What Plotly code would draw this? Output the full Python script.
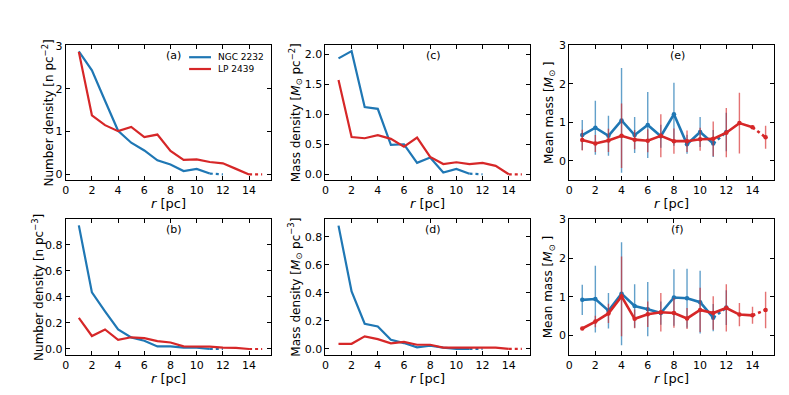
import plotly.graph_objects as go
from plotly.subplots import make_subplots

# radii of the bins [pc]
r_ngc = [1, 2, 3, 4, 5, 6, 7, 8, 9, 10, 11, 12]
r_lp = [1, 2, 3, 4, 5, 6, 7, 8, 9, 10, 11, 12, 13, 14, 15]

# (a) surface number density [n pc^-2]
nd2_ngc = [2.87, 2.43, 1.72, 1.02, 0.74, 0.56, 0.33, 0.23, 0.08, 0.13, 0.02, 0.0]
nd2_lp = [2.86, 1.38, 1.15, 1.01, 1.11, 0.87, 0.93, 0.55, 0.34, 0.35, 0.29, 0.26, 0.13, 0.0, 0.0]

# (b) volume number density [n pc^-3]
nd3_ngc = [0.95, 0.435, 0.29, 0.15, 0.088, 0.063, 0.02, 0.02, 0.01, 0.01, 0.0, 0.0]
nd3_lp = [0.24, 0.10, 0.15, 0.07, 0.09, 0.083, 0.06, 0.05, 0.02, 0.02, 0.018, 0.01, 0.008, 0.0, 0.0]

# (c) surface mass density [Msun pc^-2]
md2_ngc = [1.93, 2.05, 1.12, 1.09, 0.49, 0.50, 0.19, 0.28, 0.03, 0.09, 0.01, 0.0]
md2_lp = [1.57, 0.62, 0.60, 0.65, 0.59, 0.46, 0.61, 0.29, 0.17, 0.20, 0.17, 0.19, 0.14, 0.0, 0.0]

# (d) volume mass density [Msun pc^-3]
md3_ngc = [0.88, 0.41, 0.18, 0.16, 0.065, 0.042, 0.012, 0.023, 0.01, 0.0, 0.0, 0.0]
md3_lp = [0.037, 0.037, 0.09, 0.07, 0.04, 0.05, 0.03, 0.03, 0.01, 0.01, 0.01, 0.01, 0.01, 0.0, 0.0]

# (e) mean mass, projected bins [Msun]
mm2_ngc = [0.67, 0.86, 0.65, 1.05, 0.67, 0.93, 0.64, 1.21, 0.43, 0.75, 0.45, 0.75]
mm2_ngc_err = [0.39, 0.70, 0.52, 1.36, 0.47, 0.86, 0.30, 0.82, 0.25, 0.39, 0.35, 0.50]
mm2_lp = [0.54, 0.45, 0.53, 0.65, 0.55, 0.52, 0.65, 0.51, 0.51, 0.56, 0.57, 0.73, 0.98, 0.87, 0.61]
mm2_lp_err = [0.27, 0.22, 0.30, 0.84, 0.25, 0.30, 0.56, 0.33, 0.28, 0.30, 0.45, 0.64, 0.79, 0.0, 0.30]

# (f) mean mass, spatial bins [Msun]
mm3_ngc = [0.92, 0.94, 0.64, 1.08, 0.76, 0.68, 0.58, 0.98, 0.96, 0.86, 0.46, 0.72]
mm3_ngc_err = [0.39, 0.86, 0.46, 1.33, 0.56, 0.70, 0.30, 0.73, 0.76, 0.81, 0.35, 0.45]
mm3_lp = [0.18, 0.36, 0.57, 1.01, 0.43, 0.55, 0.60, 0.58, 0.44, 0.66, 0.58, 0.71, 0.54, 0.52, 0.66]
mm3_lp_err = [0.03, 0.15, 0.25, 1.03, 0.24, 0.33, 0.50, 0.38, 0.27, 0.57, 0.43, 0.61, 0.30, 0.22, 0.47]

names = ['NGC 2232', 'LP 2439']
BLUE = '#1f77b4'
RED = '#d62728'
ERR = {BLUE: 'rgba(31,119,180,0.7)', RED: 'rgba(214,39,40,0.65)'}
FONT = 'DejaVu Sans'
W, H = 789, 395


def px(x):
    return x / W


def py(y):
    return 1 - y / H


fig = make_subplots(rows=2, cols=3)


def add_profile(row, col, r, y, color, err=None):
    lw = 2.6 if err is not None else 2.2
    if err is not None:
        fig.add_trace(go.Scatter(
            x=r, y=y, mode='markers',
            marker=dict(size=4.5, color=color),
            error_y=dict(type='data', array=err, color=ERR[color],
                         thickness=1.4, width=0),
            showlegend=False, hoverinfo='skip'), row=row, col=col)
    # solid part, last bin dotted
    fig.add_trace(go.Scatter(
        x=r[:-1], y=y[:-1], mode='lines',
        line=dict(color=color, width=lw),
        showlegend=False), row=row, col=col)
    fig.add_trace(go.Scatter(
        x=r[-2:], y=y[-2:], mode='lines',
        line=dict(color=color, width=lw, dash='dot'),
        showlegend=False), row=row, col=col)


panels = [
    (1, 1, nd2_ngc, nd2_lp),
    (2, 1, nd3_ngc, nd3_lp),
    (1, 2, md2_ngc, md2_lp),
    (2, 2, md3_ngc, md3_lp),
]
for row, col, yn, yl in panels:
    add_profile(row, col, r_ngc, yn, BLUE)
    add_profile(row, col, r_lp, yl, RED)

# mean mass panels with error bars
for row, yn, en, yl, el in [(1, mm2_ngc, mm2_ngc_err, mm2_lp, mm2_lp_err),
                            (2, mm3_ngc, mm3_ngc_err, mm3_lp, mm3_lp_err)]:
    add_profile(row, 3, r_ngc, yn, BLUE, en)
    add_profile(row, 3, r_lp, yl, RED, el)

# panel geometry (pixels)
cols_px = [(54, 260), (315, 521), (560, 766)]
rows_px = [(32, 169), (209, 347)]
yranges = {
    (1, 1): [-0.13, 3.01], (1, 2): [-0.095, 2.145], (1, 3): [-0.5, 3.0],
    (2, 1): [-0.045, 0.997], (2, 2): [-0.042, 0.925], (2, 3): [-0.5, 3.0],
}
ydticks = {
    (1, 1): (1, None), (1, 2): (0.5, '.1f'), (1, 3): (1, None),
    (2, 1): (0.2, '.1f'), (2, 2): (0.2, '.1f'), (2, 3): (1, None),
}
axis_style = dict(showline=True, linecolor='black', linewidth=1, mirror='ticks',
                  ticks='inside', ticklen=4, tickwidth=1, tickcolor='black',
                  showgrid=False, zeroline=False,
                  tickfont=dict(family=FONT, size=11, color='black'))

for row in (1, 2):
    for col in (1, 2, 3):
        x0, x1 = cols_px[col - 1]
        y0, y1 = rows_px[row - 1]
        dt, fmt = ydticks[(row, col)]
        fig.update_xaxes(domain=[px(x0), px(x1)], range=[0, 15.65],
                         tick0=0, dtick=2, row=row, col=col, **axis_style)
        fig.update_yaxes(domain=[py(y1), py(y0)], range=yranges[(row, col)],
                         tick0=0, dtick=dt, tickformat=fmt, row=row, col=col,
                         **axis_style)

# axis labels
ylabels = {
    (1, 1): ('Number density [n pc<sup>−2</sup>]', 36),
    (2, 1): ('Number density [n pc<sup>−3</sup>]', 26),
    (1, 2): ('Mass density [<i>M</i><sub>⊙</sub> pc<sup>−2</sup>]', 285),
    (2, 2): ('Mass density [<i>M</i><sub>⊙</sub> pc<sup>−3</sup>]', 285),
    (1, 3): ('Mean mass [<i>M</i><sub>⊙</sub> ]', 540),
    (2, 3): ('Mean mass [<i>M</i><sub>⊙</sub> ]', 540),
}
annotations = []
for (row, col), (txt, xc) in ylabels.items():
    y0, y1 = rows_px[row - 1]
    annotations.append(dict(text=txt, x=px(xc), y=py((y0 + y1) / 2),
                            xref='paper', yref='paper', textangle=-90,
                            showarrow=False, xanchor='center', yanchor='middle',
                            font=dict(family=FONT, size=12, color='black')))
for row, yc in ((1, 193), (2, 371)):
    for col in (1, 2, 3):
        x0, x1 = cols_px[col - 1]
        annotations.append(dict(text='<i>r</i> [pc]', x=px((x0 + x1) / 2), y=py(yc),
                                xref='paper', yref='paper', showarrow=False,
                                xanchor='center', yanchor='middle',
                                font=dict(family=FONT, size=13, color='black')))

labels = {(1, 1): '(a)', (2, 1): '(b)', (1, 2): '(c)', (2, 2): '(d)',
          (1, 3): '(e)', (2, 3): '(f)'}
for (row, col), lab in labels.items():
    x0, x1 = cols_px[col - 1]
    y0, y1 = rows_px[row - 1]
    annotations.append(dict(text=lab, x=px(x0 + 108.5), y=py(y0 + 10.5),
                            xref='paper', yref='paper', showarrow=False,
                            xanchor='center', yanchor='middle',
                            font=dict(family=FONT, size=11, color='black')))

# legend in panel (a)
shapes = []
for name, color, yy in ((names[0], BLUE, 44), (names[1], RED, 56)):
    shapes.append(dict(type='line', xref='paper', yref='paper',
                       x0=px(178), x1=px(200), y0=py(yy), y1=py(yy),
                       line=dict(color=color, width=2.2)))
    annotations.append(dict(text=name, x=px(205), y=py(yy), xref='paper', yref='paper',
                            showarrow=False, xanchor='left', yanchor='middle',
                            font=dict(family=FONT, size=9, color='black')))

fig.update_layout(width=W, height=H, margin=dict(l=0, r=0, t=0, b=0),
                  plot_bgcolor='white', paper_bgcolor='white',
                  showlegend=False, annotations=annotations, shapes=shapes,
                  font=dict(family=FONT, color='black'))

fig.write_html('out.html')
